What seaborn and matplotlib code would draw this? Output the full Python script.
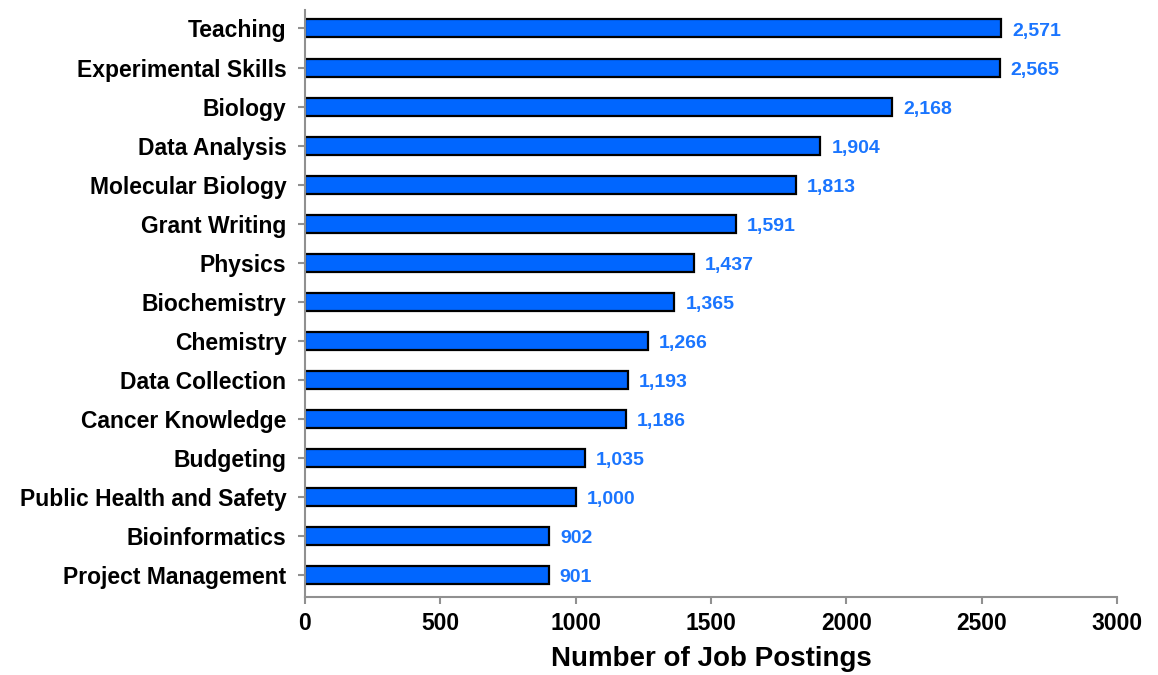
import numpy as np
import pandas as pd
import matplotlib
matplotlib.use('Agg')
import matplotlib.pyplot as plt
import seaborn as sns

# Skill categories and counts
skills = ['Teaching', 'Experimental Skills', 'Biology', 'Data Analysis', 'Molecular Biology',
          'Grant Writing', 'Physics', 'Biochemistry', 'Chemistry', 'Data Collection',
          'Cancer Knowledge', 'Budgeting', 'Public Health and Safety', 'Bioinformatics',
          'Project Management']
postings = [2571, 2565, 2168, 1904, 1813, 1591, 1437, 1365, 1266, 1193, 1186, 1035, 1000, 902, 901]

df = pd.DataFrame({'Skill': skills, 'Postings': postings})

sns.set_style('white')
plt.rcParams['font.family'] = ['Liberation Sans', 'DejaVu Sans']
plt.rcParams['text.color'] = 'black'
plt.rcParams['xtick.color'] = 'black'
plt.rcParams['ytick.color'] = 'black'
plt.rcParams['axes.labelcolor'] = 'black'

fig = plt.figure(figsize=(11.58, 6.75), dpi=100)
ax = fig.add_axes([0.263, 0.116, 0.702, 0.869])

sns.barplot(data=df, x='Postings', y='Skill', color='#0066ff', edgecolor='black',
            linewidth=1.6, width=0.46, saturation=1, ax=ax)

for bars in ax.containers:
    texts = ax.bar_label(bars, labels=[f'{v:,}' for v in postings], padding=8,
                         fontsize=14, fontweight='bold', color='#1a75ff')
    # nudge labels down a little so they sit on the bar centre
    for t in texts:
        t.xyann = (8, -2)

ax.set_xlim(0, 3000)
ax.set_ylim(14.55, -0.47)
ax.set_xticks(np.arange(0, 3001, 500))
ax.set_xlabel('Number of Job Postings', fontsize=20, fontweight='bold', labelpad=8)
ax.set_ylabel('')

for s in ['top', 'right']:
    ax.spines[s].set_visible(False)
for s in ['left', 'bottom']:
    ax.spines[s].set_color('#909090')
    ax.spines[s].set_linewidth(1.5)

ax.tick_params(axis='both', which='both', direction='out', length=5, width=1.5,
               color='#909090', labelsize=16.5, bottom=True, left=True)
ax.tick_params(axis='y', pad=8)
ax.tick_params(axis='x', pad=6)
for lab in ax.get_yticklabels() + ax.get_xticklabels():
    lab.set_fontweight('bold')

fig.savefig('out.png', dpi=100)
